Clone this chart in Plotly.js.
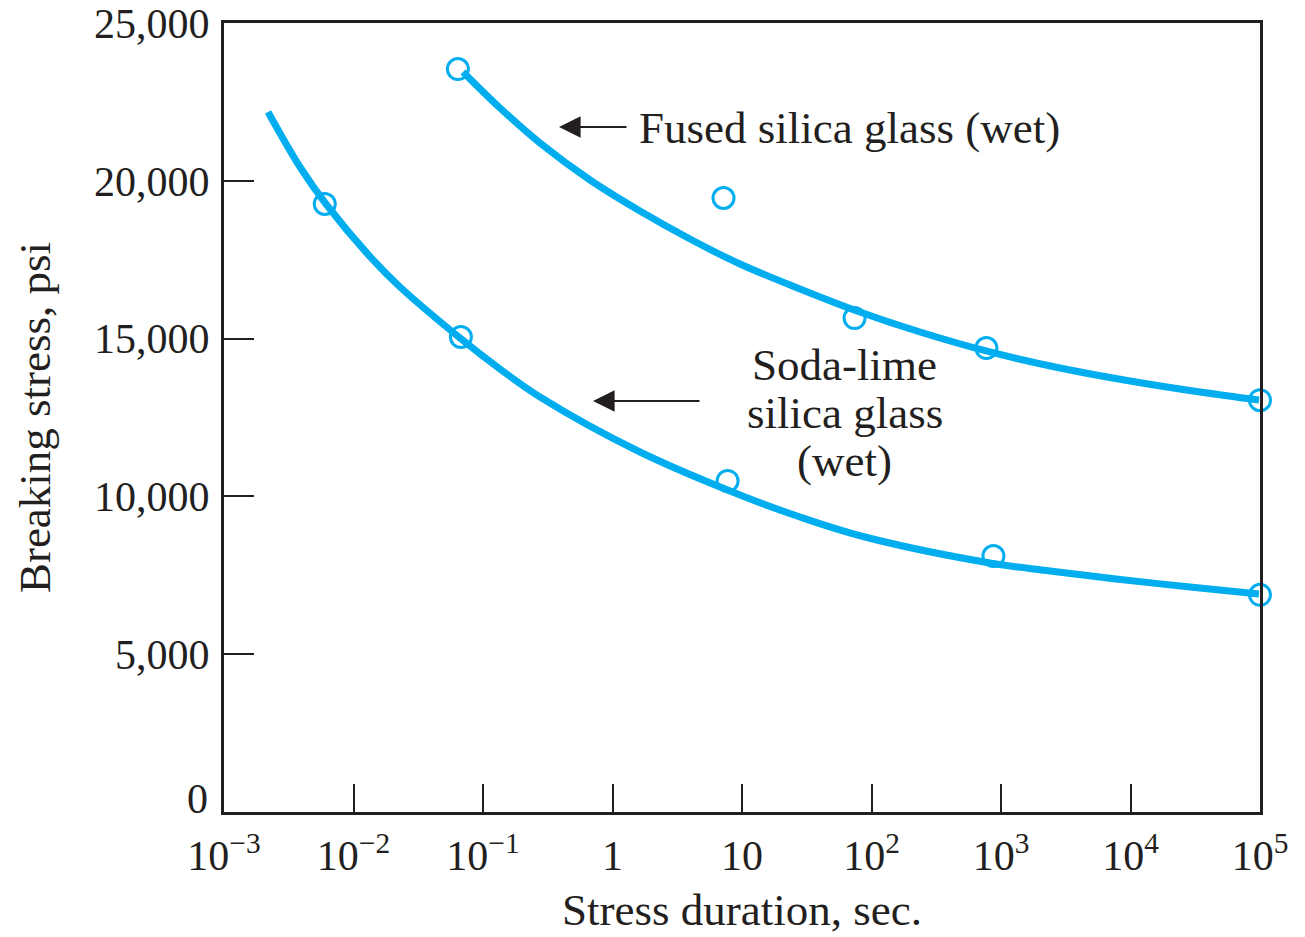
<!DOCTYPE html>
<html>
<head>
<meta charset="utf-8">
<script src="https://cdn.plot.ly/plotly-3.0.1.min.js"></script>
<style>html,body{margin:0;padding:0;background:#fff;}#chart{width:1305px;height:937px;}</style>
</head>
<body>
<div id="chart"></div>
<script>
// Measured data points (open circles)
const fusedPointsX = [0.064, 7.2, 74, 771, 100000];
const fusedPointsY = [23540, 19455, 15650, 14700, 13050];
const sodaPointsX = [0.006, 0.0675, 7.74, 874, 100000];
const sodaPointsY = [19265, 15051, 10490, 8110, 6880];

// Fitted curves
const fusedCurveX = [0.07008, 0.1353, 0.2755, 0.6705, 1.631, 3.967, 9.652, 28.05, 77.27, 236.9, 822.6, 2855, 9911, 34420, 98240];
const fusedCurveY = [23448, 22307, 21198, 20026, 19043, 18156, 17364, 16572, 15875, 15209, 14576, 14069, 13657, 13308, 13054];
const sodaCurveX = [0.002187, 0.003863, 0.006132, 0.01415, 0.02286, 0.06644, 0.1353, 0.2755, 1.631, 9.652, 28.05, 89.07, 822.6, 2390, 7727, 28810, 98240];
const sodaCurveY = [22180, 20437, 19265, 17491, 16635, 15019, 14037, 13150, 11407, 10044, 9347, 8714, 7890, 7636, 7383, 7129, 6908];

// Axis ticks
const xTickVals = [0.001, 0.01, 0.1, 1, 10, 100, 1000, 10000, 100000];
const xTickText = ['10<sup>−3</sup>', '10<sup>−2</sup>', '10<sup>−1</sup>', '1', '10', '10<sup>2</sup>', '10<sup>3</sup>', '10<sup>4</sup>', '10<sup>5</sup>'];
const yTickVals = [0, 5000, 10000, 15000, 20000, 25000];
const yTickText = ['', '5,000', '10,000', '15,000', '20,000', '25,000'];
const yZeroLabel = '0';

// Label texts
const fusedLabel = 'Fused silica glass (wet)';
const sodaLabelLines = ['Soda-lime', 'silica glass', '(wet)'];

const BLUE = '#00AEEF';
const INK = '#231f20';
const FONT = 'Liberation Serif, Times New Roman, serif';
const FS = 42;
const FS_T = 45;

const traces = [
  {x: fusedCurveX, y: fusedCurveY, mode: 'lines', line: {color: BLUE, width: 7, shape: 'spline', smoothing: 1}, hoverinfo: 'skip'},
  {x: sodaCurveX, y: sodaCurveY, mode: 'lines', line: {color: BLUE, width: 7, shape: 'spline', smoothing: 1}, hoverinfo: 'skip'},
  {x: fusedPointsX, y: fusedPointsY, mode: 'markers', cliponaxis: false,
   marker: {symbol: 'circle-open', size: 21, color: BLUE, line: {width: 3, color: BLUE}}},
  {x: sodaPointsX, y: sodaPointsY, mode: 'markers', cliponaxis: false,
   marker: {symbol: 'circle-open', size: 21, color: BLUE, line: {width: 3, color: BLUE}}}
];

const sodaLineY = [14164, 12643, 11122];
const annotations = [
  {x: -0.413, y: 21705, xref: 'x', yref: 'y', text: '', showarrow: true,
   ax: 69, ay: 0, arrowhead: 2, arrowsize: 2.4, arrowwidth: 1.8, arrowcolor: INK},
  {x: 0.189, y: 21673, xref: 'x', yref: 'y', text: fusedLabel, showarrow: false,
   xanchor: 'left', yanchor: 'middle', font: {family: FONT, size: FS_T, color: INK}},
  {x: -0.1506, y: 13023, xref: 'x', yref: 'y', text: '', showarrow: true,
   ax: 108, ay: 0, arrowhead: 2, arrowsize: 2.4, arrowwidth: 1.8, arrowcolor: INK},
  {x: 0, y: 0, xref: 'paper', yref: 'y', text: yZeroLabel, showarrow: false,
   xanchor: 'right', yanchor: 'middle', xshift: -14, yshift: 13, font: {family: FONT, size: FS, color: INK}}
];
sodaLabelLines.forEach((t, i) => annotations.push({
  x: 1.795, y: sodaLineY[i], xref: 'x', yref: 'y', text: t, showarrow: false,
  xanchor: 'center', yanchor: 'middle', font: {family: FONT, size: FS_T, color: INK}
}));

const layout = {
  width: 1305, height: 937,
  margin: {l: 224, r: 45, t: 23, b: 125},
  paper_bgcolor: '#fff', plot_bgcolor: '#fff',
  showlegend: false,
  font: {family: FONT, size: FS, color: INK},
  xaxis: {
    type: 'log', range: [-3, 5],
    tickvals: xTickVals, ticktext: xTickText,
    ticks: 'inside', ticklen: 28, tickwidth: 2, tickcolor: INK,
    showline: true, linewidth: 3, linecolor: INK, mirror: true,
    showgrid: false, zeroline: false,
    ticklabelstandoff: 5,
    tickfont: {family: FONT, size: FS, color: INK},
    title: {text: 'Stress duration, sec.', font: {family: FONT, size: FS_T, color: INK}, standoff: 16}
  },
  yaxis: {
    range: [0, 25000],
    tickvals: yTickVals, ticktext: yTickText,
    ticks: 'inside', ticklen: 30, tickwidth: 2, tickcolor: INK,
    showline: true, linewidth: 3, linecolor: INK, mirror: true,
    showgrid: false, zeroline: false,
    ticklabelstandoff: 3,
    tickfont: {family: FONT, size: FS, color: INK},
    title: {text: 'Breaking stress, psi', font: {family: FONT, size: FS_T, color: INK}, standoff: 30}
  },
  annotations: annotations
};

Plotly.newPlot('chart', traces, layout, {displayModeBar: false, staticPlot: true});
</script>
</body>
</html>
